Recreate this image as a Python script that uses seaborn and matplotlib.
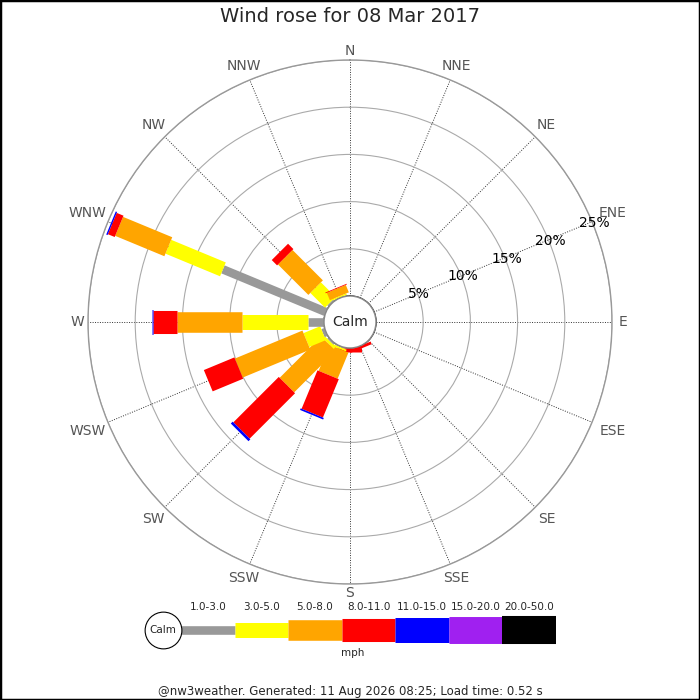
import numpy as np
import seaborn as sns
import matplotlib.pyplot as plt
from matplotlib.patches import Circle, Rectangle

sns.set_theme(style="white")
plt.rcParams['font.family'] = ['DejaVu Sans']

# compass directions, clockwise from N
dirs = ['N', 'NNE', 'NE', 'ENE', 'E', 'ESE', 'SE', 'SSE',
        'S', 'SSW', 'SW', 'WSW', 'W', 'WNW', 'NW', 'NNW']
speed_bins = ['1.0-3.0', '3.0-5.0', '5.0-8.0', '8.0-11.0', '11.0-15.0', '15.0-20.0', '20.0-50.0']

# % of observations per direction, one list per speed bin (mph)
pct_1_3 = [0, 0, 0, 0, 0, 0, 0, 0, 0, 0.10, 0.20, 0.35, 1.67, 11.82, 0.20, 0.05]
pct_3_5 = [0, 0, 0, 0, 0, 0, 0, 0, 0, 0.20, 0.30, 1.90, 7.00, 6.26, 2.20, 0.15]
pct_5_8 = [0, 0, 0, 0, 0, 0, 0, 0, 0, 3.00, 6.20, 7.75, 6.95, 5.64, 4.55, 0.85]
pct_8_11 = [0, 0, 0, 0, 0, 0, 0, 0.30, 0.40, 4.40, 6.80, 3.50, 2.47, 0.78, 0.80, 0.08]
pct_11_15 = [0, 0, 0, 0, 0, 0, 0, 0, 0, 0.18, 0.28, 0, 0.12, 0.15, 0, 0]
pct_15_20 = [0] * 16
pct_20_50 = [0] * 16
all_bins = [pct_1_3, pct_3_5, pct_5_8, pct_8_11, pct_11_15, pct_15_20, pct_20_50]

ring_ticks = [5, 10, 15, 20, 25]
ring_labels = ['5%', '10%', '15%', '20%', '25%']

colors = ['#999999', '#ffff00', '#ffa500', '#ff0000', '#0000ff', '#a020f0', '#000000']
widths = [6.2, 10.8, 14.8, 16.6, 18.0, 19.4, 20.2]   # bar thickness in points

R_PX = 262      # outer ring radius in pixels
R_ORG = 2.75    # offset so that 0% sits on the calm circle


def px_to_pct(d):
    return d / R_PX * (25 + R_ORG) - R_ORG


fig = plt.figure(figsize=(7, 7), dpi=100)

ax = fig.add_axes([88 / 700, 116 / 700, 524 / 700, 524 / 700], projection='polar')
ax.set_theta_zero_location('N')
ax.set_theta_direction(-1)
ax.set_ylim(0, 25)
ax.set_rorigin(-R_ORG)

angles = np.deg2rad(np.arange(len(dirs)) * 22.5)
ax.set_xticks(angles)
ax.set_xticklabels([])
ax.set_yticks(ring_ticks)
ax.set_yticklabels([])
ax.xaxis.grid(True, linestyle=(0, (1, 1.5)), color='#333333', lw=0.7)
ax.yaxis.grid(True, linestyle='-', color='#aaaaaa', lw=0.8)
ax.spines['polar'].set_color('#999999')
ax.spines['polar'].set_linewidth(1)

# compass labels just outside the outer ring
for th, lab in zip(angles, dirs):
    half_w = 11.5 * len(lab) / 2
    d = 267 + abs(np.sin(th)) * half_w + abs(np.cos(th)) * 4
    ax.text(th, px_to_pct(d), lab, ha='center', va='center', fontsize=10,
            color='#555555', clip_on=False)

# ring labels along the ENE spoke
for r, lab in zip(ring_ticks, ring_labels):
    ax.text(np.deg2rad(68), r + 0.15, lab, ha='center', va='center', fontsize=10,
            color='black', zorder=7)

for j, th in enumerate(angles):
    base = 0
    for k, series in enumerate(all_bins):
        v = series[j]
        if v > 0:
            ax.plot([th, th], [base, base + v], color=colors[k], lw=widths[k],
                    solid_capstyle='butt', zorder=3)
        base += v

ax.add_patch(Circle((0.5, 0.5), 26 / 524, transform=ax.transAxes, facecolor='white',
                    edgecolor='#888888', lw=1, zorder=5, clip_on=False))
ax.text(0.5, 0.5, 'Calm', transform=ax.transAxes, ha='center', va='center',
        fontsize=10, zorder=6)

# speed key under the rose
lg = fig.add_axes([181 / 700, 40 / 700, 375 / 700, 60 / 700])
lg.set_xlim(0, len(speed_bins))
lg.set_ylim(-1, 1)
lg.axis('off')
for k, lab in enumerate(speed_bins):
    lg.plot([k, k + 1], [0, 0], color=colors[k], lw=widths[k], solid_capstyle='butt')
    lg.text(k + 0.5, 0.78, lab, ha='center', va='center', fontsize=7.5)
lg.scatter([-0.34], [0], s=700, facecolor='white', edgecolor='black', lw=0.8,
           clip_on=False, zorder=4)
lg.text(-0.34, 0, 'Calm', ha='center', va='center', fontsize=7.5, zorder=5)
lg.text(3.2, -0.78, 'mph', ha='center', va='center', fontsize=7.5)

fig.text(0.5, 1 - 17 / 700, 'Wind rose for 08 Mar 2017', ha='center', va='center', fontsize=14)
fig.text(0.5, 1 - 692 / 700, '@nw3weather. Generated: 11 Aug 2026 08:25; Load time: 0.52 s',
         ha='center', va='center', fontsize=8.5)
fig.patches.append(Rectangle((0, 0), 1, 1, transform=fig.transFigure, fill=False,
                             edgecolor='black', lw=2.5))

fig.savefig('out.png', dpi=100)
